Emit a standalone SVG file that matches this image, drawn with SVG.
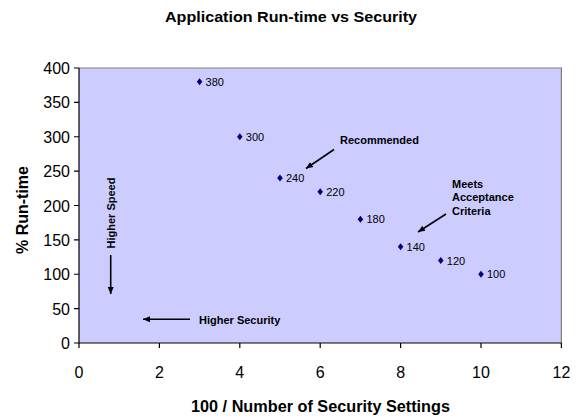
<svg xmlns="http://www.w3.org/2000/svg" width="580" height="420" viewBox="0 0 580 420">
  <style>
    text { font-family: "Liberation Sans", Arial, sans-serif; fill: #000; }
    .tick { font-size: 16px; }
    .ylab { text-anchor: end; }
    .xlab { text-anchor: middle; }
    .title { font-size: 15px; font-weight: bold; }
    .axtitle { font-size: 16px; font-weight: bold; }
    .note { font-size: 11px; font-weight: bold; }
    .val { font-size: 11px; }
    .pt { fill: #000080; }
    .axis { stroke: #000; stroke-width: 1.2; fill: none; }
    .frame { stroke: #808080; stroke-width: 1.2; fill: none; }
    .arrow { stroke: #000; stroke-width: 1.6; fill: none; marker-end: url(#head); }
  </style>
  <defs>
    <marker id="head" markerUnits="userSpaceOnUse" markerWidth="8" markerHeight="8" viewBox="0 0 8 8" refX="7" refY="4" orient="auto">
      <path d="M0,1 L7,4 L0,7 Z" fill="#000"/>
    </marker>
    <path id="diamond" d="M0,-3.6 L2.8,0 L0,3.6 L-2.8,0 Z"/>
  </defs>

  <rect width="580" height="420" fill="#fff"/>

  <!-- chart title -->
  <text class="title" x="291" y="22" text-anchor="middle" textLength="252" lengthAdjust="spacingAndGlyphs">Application Run-time vs Security</text>

  <!-- plot area -->
  <g id="plot-area">
    <rect x="79" y="68" width="482.4" height="275" fill="#CCCCFF"/>
    <path class="frame" d="M79,68 H561.4 V343"/>
    <path class="axis" d="M79,68 V343 H561.4"/>
  </g>

  <!-- y axis ticks and labels -->
  <g id="y-axis">
    <path class="axis" d="M74,343 H79 M74,308.6 H79 M74,274.25 H79 M74,239.9 H79 M74,205.5 H79 M74,171.1 H79 M74,136.75 H79 M74,102.4 H79 M74,68 H79"/>
    <text class="tick ylab" x="70" y="349">0</text>
    <text class="tick ylab" x="70" y="314.6">50</text>
    <text class="tick ylab" x="70" y="280.25">100</text>
    <text class="tick ylab" x="70" y="245.9">150</text>
    <text class="tick ylab" x="70" y="211.5">200</text>
    <text class="tick ylab" x="70" y="177.1">250</text>
    <text class="tick ylab" x="70" y="142.75">300</text>
    <text class="tick ylab" x="70" y="108.4">350</text>
    <text class="tick ylab" x="70" y="74">400</text>
    <text class="axtitle" transform="translate(28,210) rotate(-90)" text-anchor="middle">% Run-time</text>
  </g>

  <!-- x axis ticks and labels -->
  <g id="x-axis">
    <path class="axis" d="M79,343 V348 M159.4,343 V348 M239.8,343 V348 M320.2,343 V348 M400.6,343 V348 M481,343 V348 M561.4,343 V348"/>
    <text class="tick xlab" x="79" y="378">0</text>
    <text class="tick xlab" x="159.4" y="378">2</text>
    <text class="tick xlab" x="239.8" y="378">4</text>
    <text class="tick xlab" x="320.2" y="378">6</text>
    <text class="tick xlab" x="400.6" y="378">8</text>
    <text class="tick xlab" x="481" y="378">10</text>
    <text class="tick xlab" x="561.4" y="378">12</text>
    <text class="axtitle" x="320.5" y="411.5" text-anchor="middle" textLength="259" lengthAdjust="spacingAndGlyphs">100 / Number of Security Settings</text>
  </g>

  <!-- data points with value labels -->
  <g id="p380"><use href="#diamond" class="pt" x="199.6" y="81.75"/><text class="val" x="205.6" y="85.75">380</text></g>
  <g id="p300"><use href="#diamond" class="pt" x="239.8" y="136.75"/><text class="val" x="245.8" y="140.75">300</text></g>
  <g id="p240"><use href="#diamond" class="pt" x="280" y="178"/><text class="val" x="286" y="182">240</text></g>
  <g id="p220"><use href="#diamond" class="pt" x="320.2" y="191.75"/><text class="val" x="326.2" y="195.75">220</text></g>
  <g id="p180"><use href="#diamond" class="pt" x="360.4" y="219.25"/><text class="val" x="366.4" y="223.25">180</text></g>
  <g id="p140"><use href="#diamond" class="pt" x="400.6" y="246.75"/><text class="val" x="406.6" y="250.75">140</text></g>
  <g id="p120"><use href="#diamond" class="pt" x="440.8" y="260.5"/><text class="val" x="446.8" y="264.5">120</text></g>
  <g id="p100"><use href="#diamond" class="pt" x="481" y="274.25"/><text class="val" x="487" y="278.25">100</text></g>

  <!-- callout texts -->
  <g id="note-recommended"><text class="note" x="340" y="144">Recommended</text></g>
  <g id="note-acceptance">
    <text class="note" x="452" y="187.5">Meets</text>
    <text class="note" x="452" y="201">Acceptance</text>
    <text class="note" x="452" y="214.5">Criteria</text>
  </g>
  <g id="note-speed"><text class="note" transform="translate(114.5,213) rotate(-90)" text-anchor="middle">Higher Speed</text></g>
  <g id="note-security"><text class="note" x="199" y="324">Higher Security</text></g>

  <!-- callout arrows -->
  <g id="connectors">
    <path class="arrow" d="M334,149.5 L306,168.5"/>
    <path class="arrow" d="M446,214 L418,232"/>
    <path class="arrow" d="M110.7,255 V294"/>
    <path class="arrow" d="M190,319.3 H143"/>
  </g>
</svg>
